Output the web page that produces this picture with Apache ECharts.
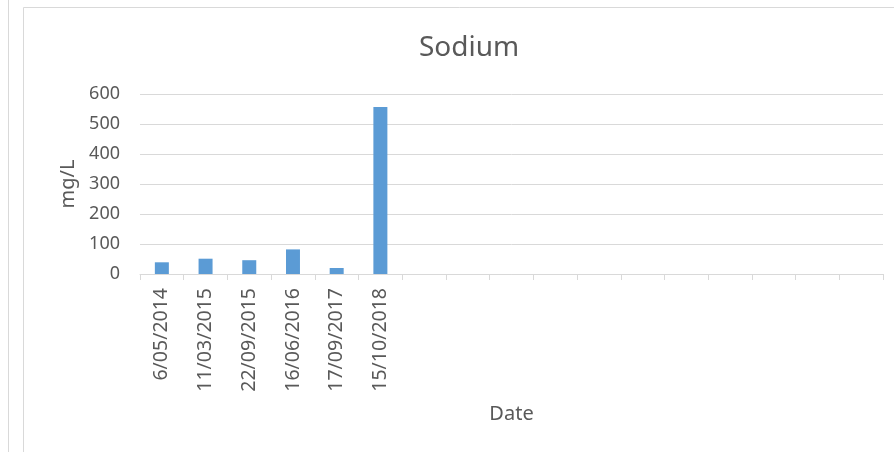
<!DOCTYPE html>
<html>
<head>
<meta charset="utf-8">
<script src="https://cdn.jsdelivr.net/npm/echarts@6/dist/echarts.min.js"></script>
<style>html,body{margin:0;padding:0;background:#fff}#c{width:894px;height:452px}</style>
</head>
<body>
<div id="c"></div>
<script>
const categories = ['6/05/2014','11/03/2015','22/09/2015','16/06/2016','17/09/2017','15/10/2018','','','','','','','','','','',''];
const sodium = [39, 51, 46, 82, 20, 557];
const yTicks = [0, 100, 200, 300, 400, 500, 600];

const chart = echarts.init(document.getElementById('c'));
const txt = '#595959';
const grid = '#d9d9d9';
const font = 'Noto Sans';
chart.setOption({
  animation: false,
  backgroundColor: '#fff',
  textStyle: {fontFamily: font},
  title: {
    text: 'Sodium', left: 414, top: 29,
    textStyle: {fontSize: 28, fontWeight: 'normal', color: txt, fontFamily: font}
  },
  graphic: [
    {type: 'line', shape: {x1: 8.5, y1: 0, x2: 8.5, y2: 452}, style: {stroke: grid, lineWidth: 1}},
    {type: 'rect', shape: {x: 23.5, y: 7.5, width: 900, height: 500}, style: {fill: null, stroke: grid, lineWidth: 1}}
  ],
  grid: {left: 140, right: 11, top: 94, bottom: 178},
  xAxis: {
    type: 'category', data: categories,
    name: 'Date', nameLocation: 'middle', nameGap: 130,
    nameTextStyle: {fontSize: 20, color: txt, fontFamily: font},
    axisLine: {lineStyle: {color: grid, width: 1}},
    axisTick: {show: true, alignWithLabel: false, length: 6, lineStyle: {color: grid}},
    axisLabel: {rotate: 90, interval: 0, margin: 14, fontSize: 19.5, color: txt, fontFamily: font}
  },
  yAxis: {
    type: 'value', min: yTicks[0], max: yTicks[yTicks.length - 1], interval: 100,
    name: 'mg/L', nameLocation: 'middle', nameGap: 62, nameRotate: 90,
    nameTextStyle: {fontSize: 20, color: txt, fontFamily: font},
    axisLine: {show: false}, axisTick: {show: false},
    axisLabel: {margin: 20, fontSize: 18, color: txt, fontFamily: font},
    splitLine: {lineStyle: {color: grid, width: 1}}
  },
  series: [{
    type: 'bar', data: sodium, barWidth: 14,
    itemStyle: {color: '#5B9BD5'}
  }]
});
</script>
</body>
</html>
